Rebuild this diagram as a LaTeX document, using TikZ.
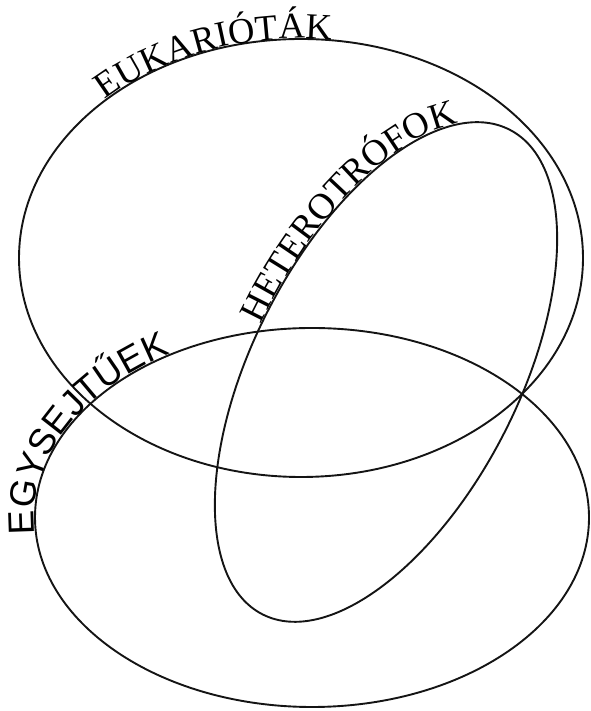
\documentclass[tikz,border=0pt]{standalone}
\usepackage{fontspec}
\usetikzlibrary{decorations.text}
\newfontfamily\serifface{Liberation Serif}
\newfontfamily\sansface{Liberation Sans}
\begin{document}
\begin{tikzpicture}[x=1pt,y=1pt,
  venn/.style={draw=black!92, line width=1.9pt},
  curvedlabel/.style={decorate, decoration={text along path, text align=left, raise=0.5pt}}]
\useasboundingbox (0,0) rectangle (590,711);
\coordinate (euk) at (301,453);
\coordinate (egy) at (312,193.5);
\coordinate (het) at (386,339);
% ellipses
\draw[venn] (euk) ellipse [x radius=282, y radius=219];
\draw[venn] (egy) ellipse [x radius=277, y radius=189.5];
\begin{scope}[shift={(het)}, rotate=63]
  \draw[venn] (0,0) ellipse [x radius=272, y radius=133];
  \path[curvedlabel, decoration={text={|\serifface\fontsize{36.5}{40}\selectfont|HETEROTRÓFOK}}]
    (93:272 and 133) arc[start angle=93, end angle=-20, x radius=272, y radius=133];
\end{scope}
% labels
\begin{scope}[shift={(euk)}]
  \path[curvedlabel, decoration={text={|\serifface\fontsize{36.5}{40}\selectfont|EUKARIÓTÁK}}]
    (134:282 and 219) arc[start angle=134, end angle=55, x radius=282, y radius=219];
\end{scope}
\begin{scope}[shift={(egy)}]
  \path[curvedlabel, decoration={text={|\sansface\fontsize{36.5}{40}\selectfont|EGYSEJTŰEK}}]
    (185:277 and 189.5) arc[start angle=185, end angle=90, x radius=277, y radius=189.5];
\end{scope}
\end{tikzpicture}
\end{document}
